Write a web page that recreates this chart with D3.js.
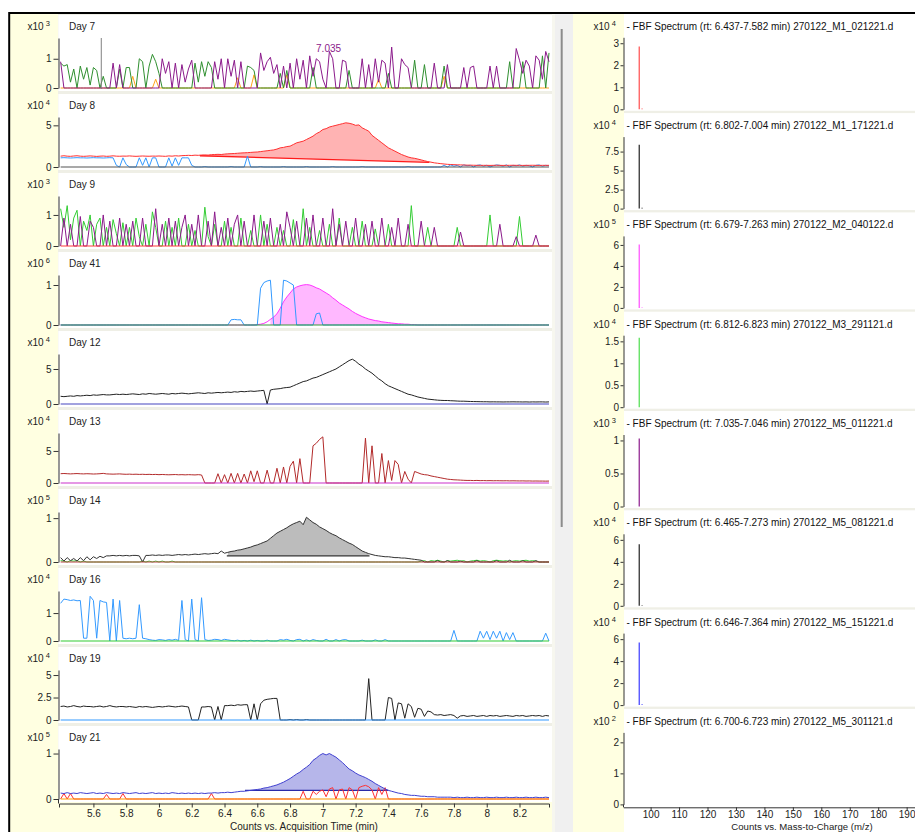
<!DOCTYPE html>
<html><head><meta charset="utf-8">
<script src="https://cdn.jsdelivr.net/npm/d3@7"></script>
<style>
body{margin:0;background:#fff;}
svg{display:block;font-family:"Liberation Sans",Arial,sans-serif;}
</style></head>
<body><svg id="c" width="915" height="832"></svg>
<script>
// ---------------- DATA ----------------
// acquisition grid: scans from 5.40 min every 0.02 min (150 scans)
const acqStart = 5.40, acqStep = 0.02;
const timeTicks = [5.6,5.8,6.0,6.2,6.4,6.6,6.8,7.0,7.2,7.4,7.6,7.8,8.0,8.2];

const dayLabels    = ["Day 7","Day 8","Day 9","Day 41","Day 12","Day 13","Day 14","Day 16","Day 19","Day 21"];
const dayExponents = [3,4,3,6,4,4,5,4,4,5];
const dayYMax      = [1.71,6.0,1.61,1.25,7.14,7.8,1.14,1.79,5.56,1.1];
const dayTicks     = [[0,1],[0,5],[0,1],[0,1],[0,5],[0,5],[0,1],[0,1],[0,2.5,5],[0,1]];
const dayZeroColors= [null,"#555555","#ff3b3b","#3a9a3a","#4646c0","#cc33cc","#b84040","#33cc33","#3399ff","#ff9900"];

const day7Purple = [0.9,0,0,0,0,0,0,0,0,0,
 0,0,0,0,0,0,0.85,0,0.8,0,
 0,0,0,0,0,0,0,0,0,0,
 0,1.0,0.5,0.9,0,0.85,0,0.8,0.2,0.65,
 0.95,0,0,0,0,0,0,0.9,0.3,1.0,
 0,1.0,0.4,0.95,0,0.9,0,0,0,0,
 0,1.2,0.6,0.9,1.05,0.5,0.8,0,0.75,0,
 0.85,0,1.0,0.3,0.95,0,1.1,0.4,1.0,0.9,
 0.3,0,1.25,1.0,0,0,0.95,0.9,0,0,
 0,0,1.0,0,0.8,0,1.0,0.2,0.95,0.85,
 0,1.4,0,0,1.0,0.8,0.7,0,0,0,
 0,0,0,0,0.85,0,0,0,0.8,0,
 0,0,0,0.7,0,0.7,0.75,0,0,0,
 0,0.75,0,0.75,0,0,0,0,0,1.35,
 0.95,0.5,0.95,0.75,0,1.1,0.95,0.3,1.25,0.9];
const day7Green = [0.85,0.75,0.8,0.2,0.65,0,0.75,0.3,0.7,0.1,
 0.7,0.6,0,0.4,0,0,0,0,0.65,0,
 0.7,0.7,0,0,1.0,0.9,0,0.75,1.15,0.9,
 0.5,0,0,0,0,0,0,0,0,0,
 0,0.85,0.2,0.9,0.4,0.9,0.7,0,0,0,
 0,0,0,0,0,0,0,0.75,0.7,0.6,
 0,0,0,0,0,0,0,0.5,0,0.6,
 0,0,0,0,0,0,0,0.7,0,0,
 0,0,0,0,0,0,0,0,0.6,0,
 0,0,0,0,0,0,0,0,0,0,
 0.5,0,0,0,0,0,0,0,0.95,0,
 0,0.8,0,0,0,0,0,0.75,0,0,
 0,0,0,0,0,0,0,0,0,0,
 0,0,0,0,0,0,0,0.9,0,0,
 0,0.9,0,0,0,0,0,1.1,0,1.2];
const day7Orange = [0,0,0,0,0,0,0,0,0,0,
 0,0,0,0,0,0,0,0,0,0,
 0,0,0.4,0,0,0,0,0,0,0.3,
 0,0,0,0,0,0,0,0,0,0,
 0,0,0,0,0,0,0,0,0,0,
 0,0,0,0,0.35,0,0,0,0,0.45,
 0,0,0,0,0,0,0,0,0,0.45,
 0,0,0,0,0,0,0,0,0,0,
 0,0,0,0,0,0,0,0,0,0,
 0,0,0,0,0,0,0,0.3,0,0,
 0,0,0,0,0,0,0,0,0,0,
 0,0,0,0,0,0,0,0.4,0,0,
 0,0,0,0,0,0,0,0,0,0,
 0,0,0,0,0,0,0,0,0,0,
 0,0,0,0,0,0,0,0,0,0];
const day7MarkerTimes = [5.648];
const day7PeakLabel = {rt: 7.035, text: "7.035"};

const day8Red = [1.3,1.35,1.3,1.28,1.32,1.35,1.3,1.28,1.3,1.33,
 1.3,1.27,1.3,1.32,1.28,1.3,1.34,1.3,1.29,1.31,
 1.3,1.33,1.3,1.28,1.3,1.32,1.3,1.29,1.31,1.3,
 1.32,1.3,1.28,1.33,1.3,1.35,1.32,1.36,1.38,1.4,
 1.38,1.42,1.4,1.44,1.45,1.43,1.48,1.5,1.52,1.5,
 1.55,1.58,1.6,1.62,1.65,1.68,1.7,1.72,1.75,1.78,
 1.8,1.85,1.9,1.95,2.0,2.05,2.15,2.3,2.35,2.45,
 2.5,2.7,2.9,3.0,3.1,3.3,3.5,3.7,4.0,4.2,
 4.5,4.6,4.8,4.9,5.0,5.1,5.2,5.3,5.25,5.15,
 5.0,5.05,4.7,4.5,4.3,3.8,3.5,3.2,2.9,2.6,
 2.3,2.1,1.9,1.7,1.5,1.35,1.2,1.1,1.04,0.95,
 0.85,0.75,0.65,0.58,0.5,0.45,0.4,0.36,0.32,0.3,
 0.28,0.26,0.25,0.24,0.22,0.22,0.21,0.2,0.2,0.2,
 0.2,0.19,0.2,0.21,0.2,0.19,0.2,0.2,0.21,0.2,
 0.2,0.19,0.2,0.2,0.21,0.2,0.19,0.2,0.2,0.2];
const day8Blue = [1.1,1.12,1.1,1.08,1.1,1.12,1.1,1.1,1.08,1.1,
 1.12,1.1,1.1,1.08,1.1,1.12,1.1,0.2,0,1.1,
 0.3,0,0,0,1.1,0.2,1.1,0,1.1,1.1,
 0,0,0,1.1,0.1,1.1,0.2,1.1,1.1,1.1,
 0.2,0,0,0,0.05,0,0,0,0,0,
 0,0,0.05,0,0,0,0,1.3,0,0,
 0,0.05,0,0,0,0,0,0,0.05,0,
 0,0,0,0,0,0.05,0,0,0,0,
 0,0,0,0.05,0,0,0,0,0,0,
 0,0,0.05,0,0,0,0,0,0,0,
 0,0,0,0,0,0,0.05,0,0,0,
 0,0,0,0,0,0,0,0.2,0,0.25,
 0.1,0.2,0,0.25,0.15,0.2,0,0.2,0.25,0.1,
 0.2,0,0.15,0.25,0.2,0.1,0.25,0,0.2,0.15,
 0.25,0.1,0.2,0.15,0,0.2,0.25,0.1,0.2,0.15];

const day9Green = [1.2,0.6,1.3,0.2,0.9,1.15,0,0.8,0.5,1.0,
 0,0.7,0.9,0,0.6,0,0.85,0.4,0,0.75,
 0,0.6,0,0.9,0.3,0,0.7,0,1.1,0.6,
 0,0,0.8,0,0.6,0,0.9,0,0,0.7,
 0,0.5,0,0,1.25,0.3,0,0.7,0,0,
 0.8,0,0.6,0,0,0.9,0,0,0.5,0,
 0,1.0,0,0.7,0,0,0.6,0,0.5,0,
 0,0.85,0,0,1.2,0,0.6,0,0,0.5,
 0,0,0.7,0,0,0.9,0,0,0,0.6,
 0,0,0.8,0,0,0,0.55,0,0,0,
 0.7,0,0,0,0,0,0,1.3,0,0,
 0,0,0.6,0,0,0,0,0,0,0,
 0,0.6,0,0,0,0,0,0,0,0,
 0,1.0,0,0,0,0,0,0,0,0,
 0.95,0,0,0,0,0,0,0,0,0];
const day9Purple = [0,0.9,0,0.7,0,0,0.95,0,0,0.8,
 0.6,0,0,1.0,0,0.8,0,0,0.9,0,
 0.7,0,0.8,0,0,0.9,0,0,0,1.2,
 0,0.7,0,0.9,0,0.8,0,0.6,1.0,0,
 0.7,0,1.0,0,0,0.8,0,1.1,0,0.6,
 0,0.9,0,0.7,1.0,0,0.8,0,0,1.0,
 0,0,0.8,0,0.9,0,0,0.7,0,1.1,
 0.6,0,0.8,0,0,0.9,0,1.0,0,0,
 0.9,0,0,1.2,0,0.7,0,0.8,0,0,
 0.9,0,0,0.7,0,0.8,0,0,0.9,0,
 0,0.6,0,0.9,0,0,0.7,0,0,0,
 0.8,0,0,0,0.6,0,0,0,0,0,
 0,0,0.45,0,0,0,0,0,0,0,
 0,0,0,0,0.7,0,0,0,0,0.3,
 0,0,0,0,0,0.35,0,0,0,0];

const day41Magenta = [0,0,0,0,0,0,0,0,0,0,
 0,0,0,0,0,0,0,0,0,0,
 0,0,0,0,0,0,0,0,0,0,
 0,0,0,0,0,0,0,0,0,0,
 0,0,0,0,0,0,0,0,0,0,
 0,0,0,0,0,0,0,0,0,0,
 0.01,0.02,0.04,0.08,0.14,0.2,0.28,0.42,0.58,0.7,
 0.8,0.9,0.95,0.98,1.0,1.01,1.0,0.97,0.93,0.9,
 0.85,0.8,0.75,0.68,0.62,0.55,0.5,0.45,0.4,0.34,
 0.29,0.25,0.21,0.18,0.15,0.13,0.11,0.1,0.08,0.07,
 0.06,0.05,0.04,0.03,0.03,0.02,0.02,0.01,0.01,0,
 0,0,0,0,0,0,0,0,0,0,
 0,0,0,0,0,0,0,0,0,0,
 0,0,0,0,0,0,0,0,0,0,
 0,0,0,0,0,0,0,0,0,0];
const day41Blue = [0,0,0,0,0,0,0,0,0,0,
 0,0,0,0,0,0,0,0,0,0,
 0,0,0,0,0,0,0,0,0,0,
 0,0,0,0,0,0,0,0,0,0,
 0,0,0,0,0,0,0,0,0,0,
 0,0,0.13,0.14,0.13,0.13,0,0,0,0,
 0,0.92,1.06,1.1,1.12,0,0,0,1.12,1.1,
 1.05,1.0,0,0,0,0,0,0,0.28,0.3,
 0,0,0,0,0,0,0,0,0,0,
 0,0,0,0,0,0,0,0,0,0,
 0,0,0,0,0,0,0,0,0,0,
 0,0,0,0,0,0,0,0,0,0,
 0,0,0,0,0,0,0,0,0,0,
 0,0,0,0,0,0,0,0,0,0,
 0,0,0,0,0,0,0,0,0,0];

const day12Black = [1.1,1.05,1.1,1.15,1.1,1.2,1.15,1.2,1.25,1.2,
 1.3,1.25,1.3,1.35,1.3,1.3,1.35,1.4,1.35,1.4,
 1.35,1.4,1.45,1.4,1.35,1.45,1.4,1.5,1.45,1.4,
 1.45,1.5,1.45,1.4,1.5,1.45,1.5,1.55,1.5,1.45,
 1.5,1.55,1.6,1.55,1.5,1.6,1.55,1.6,1.65,1.6,
 1.65,1.7,1.65,1.75,1.7,1.8,1.75,1.8,1.85,1.8,
 1.85,1.9,1.95,0,2.0,2.1,2.15,2.2,2.3,2.35,
 2.4,2.6,2.8,3.0,3.2,3.3,3.5,3.7,3.8,4.0,
 4.2,4.4,4.6,4.8,5.0,5.3,5.6,5.9,6.2,6.4,
 6.1,5.7,5.4,5.0,4.7,4.4,4.0,3.6,3.3,2.9,
 2.6,2.4,2.2,2.0,1.8,1.6,1.4,1.3,1.15,1.0,
 0.9,0.8,0.7,0.65,0.6,0.55,0.52,0.5,0.5,0.47,
 0.45,0.42,0.4,0.4,0.38,0.36,0.35,0.34,0.33,0.32,
 0.32,0.3,0.31,0.3,0.3,0.29,0.3,0.3,0.31,0.3,
 0.3,0.29,0.3,0.28,0.3,0.29,0.3,0.3,0.28,0.3];

const day13Red = [1.45,1.48,1.45,1.42,1.45,1.47,1.44,1.42,1.45,1.43,
 1.4,1.42,1.45,1.5,1.42,1.4,1.38,1.4,1.42,1.38,
 1.36,1.38,1.35,1.37,1.34,1.36,1.33,1.35,1.32,1.34,
 1.3,1.33,1.3,1.28,1.3,1.32,1.28,1.3,1.27,1.3,
 1.28,1.26,1.3,1.25,0,0,0,0,1.45,0,
 1.3,0,1.5,0,1.5,0,1.4,0,1.9,0.2,
 1.9,0,0,2.0,0,0,2.3,0,2.5,0,
 2.6,3.4,0,3.8,0,0,0,5.8,6.2,6.8,
 7.2,0,0,0,0,0,0,0,0,0,
 0,0,0,7.0,0,5.8,0,0,4.6,0,
 3.5,0.4,3.5,2.9,0,1.8,0.6,0,1.8,1.6,
 1.4,1.3,1.25,1.1,1.0,0.9,0.8,0.7,0.6,0.55,
 0.5,0.48,0.45,0.42,0.4,0.4,0.38,0.4,0.37,0.38,
 0.36,0.37,0.35,0.36,0.35,0.34,0.35,0.33,0.34,0.33,
 0.32,0.33,0.31,0.32,0.3,0.31,0.3,0.3,0.29,0.3];

const day14Black = [0.1,0.02,0.1,0.03,0.08,0.02,0.1,0.03,0.12,0.05,
 0.12,0.08,0.13,0.1,0.14,0.14,0.15,0.14,0.15,0.14,
 0.15,0.14,0.15,0.15,0.14,0.0,0.15,0.15,0.16,0.15,
 0.16,0.15,0.16,0.16,0.15,0.16,0.17,0.16,0.17,0.16,
 0.17,0.18,0.17,0.18,0.19,0.18,0.19,0.2,0.19,0.25,
 0.2,0.22,0.24,0.25,0.27,0.28,0.3,0.32,0.34,0.37,
 0.39,0.42,0.45,0.48,0.54,0.6,0.66,0.7,0.74,0.78,
 0.83,0.87,0.9,0.93,0.85,1.02,0.96,0.9,0.86,0.8,
 0.76,0.72,0.67,0.63,0.6,0.55,0.51,0.47,0.43,0.4,
 0.35,0.3,0.25,0.22,0.19,0.17,0.15,0.14,0.13,0.12,
 0.12,0.11,0.1,0.1,0.09,0.09,0.08,0.07,0.06,0.05,
 0.04,0,0,0,0,0.03,0,0,0.03,0,
 0,0,0.02,0,0,0,0,0.03,0,0,
 0,0,0,0.03,0,0,0,0.04,0,0,
 0,0.03,0,0,0,0.03,0,0,0,0];
const day14Green = [0.03,0.02,0,0.03,0.02,0.03,0,0.02,0,0,
 0,0,0,0,0,0,0,0,0,0,
 0,0,0,0,0,0.02,0,0.02,0,0.02,
 0,0.02,0,0,0.02,0,0,0,0,0,
 0,0,0,0,0,0,0,0,0,0,
 0,0,0,0,0,0,0,0,0,0,
 0,0,0,0,0,0,0,0,0,0,
 0,0,0,0,0,0,0,0,0,0,
 0,0,0,0,0,0,0,0,0,0,
 0,0,0,0,0,0,0,0,0,0,
 0,0,0,0,0,0,0,0,0,0,
 0.02,0.03,0,0.03,0.02,0.04,0.02,0,0.03,0.02,
 0.03,0.04,0.02,0.03,0,0.02,0.03,0.04,0.02,0.03,
 0.02,0,0.03,0.04,0.03,0.02,0.03,0,0.02,0.03,
 0.02,0.03,0.04,0.02,0.03,0.02,0,0,0,0];

const day16Blue = [1.35,1.5,1.48,1.45,1.47,1.44,1.45,0.1,0.1,1.6,
 1.45,0.1,1.45,1.4,1.38,0,1.5,0,1.45,0.1,
 0.08,0.1,0.08,0.1,1.3,0.1,0.08,0.05,0.03,0.02,
 0.05,0.04,0.02,0.05,0.03,0.06,0.02,1.45,0.05,0,
 1.5,0.05,0,1.55,0.05,0.02,0.03,0.06,0.05,0.02,
 0.06,0.04,0.02,0.01,0.03,0,0.02,0,0.03,0,
 0.02,0,0,0.03,0,0,0,0.05,0.03,0.06,
 0.02,0,0.05,0.06,0,0.04,0,0.05,0.02,0,
 0,0.06,0,0,0.05,0,0.04,0.05,0,0,
 0,0,0.03,0,0,0,0.04,0,0,0.05,
 0,0,0,0,0,0,0,0,0,0,
 0,0,0,0,0,0,0,0,0,0,
 0.38,0,0,0,0,0,0,0,0.35,0.1,
 0.35,0.05,0.35,0.1,0.35,0,0.3,0.05,0.3,0,
 0,0,0,0,0,0,0,0,0.28,0];

const day19Black = [1.5,1.55,1.45,1.5,1.6,1.5,1.45,1.55,1.5,1.5,
 1.45,1.5,1.55,1.45,1.5,1.6,1.5,1.45,1.5,1.5,
 1.45,1.5,1.45,1.4,1.5,1.45,1.5,1.45,1.4,1.45,
 1.5,1.45,1.5,1.55,1.5,1.45,1.5,1.55,1.5,1.45,
 0,0,0,1.45,1.45,1.5,1.45,0,1.5,0,
 1.6,1.6,1.65,1.6,1.7,1.65,1.7,1.7,0,1.8,
 0,1.8,2.2,2.3,2.35,2.4,2.4,0,0,0,
 0.05,0,0.05,0,0,0.05,0,0,0,0,
 0,0,0,0,0,0,0,0,0,0,
 0,0,0,0,4.6,0,0,0,0,0,
 2.5,2.4,0,1.9,1.8,0.2,1.8,1.5,0.3,1.3,
 1.2,0.4,1.0,0.9,0.6,0.55,0.6,0.5,0.55,0.6,
 0.5,0.2,0.45,0.5,0.4,0.45,0.5,0.4,0.45,0.5,
 0.4,0.5,0.45,0.5,0.4,0.45,0.5,0.45,0.4,0.5,
 0.45,0.5,0.4,0.45,0.5,0.45,0.5,0.4,0.5,0.45];

const day21Blue = [0.13,0.12,0.14,0.12,0.13,0.12,0.14,0.13,0.12,0.13,
 0.14,0.12,0.13,0.12,0.14,0.13,0.12,0.13,0.12,0.14,
 0.13,0.12,0.13,0.14,0.12,0.13,0.12,0.13,0.14,0.12,
 0.13,0.12,0.13,0.12,0.14,0.13,0.12,0.13,0.12,0.13,
 0.12,0.13,0.12,0.13,0.12,0.13,0.13,0.14,0.13,0.14,
 0.14,0.15,0.14,0.15,0.16,0.17,0.17,0.18,0.19,0.2,
 0.21,0.22,0.24,0.25,0.27,0.29,0.31,0.34,0.37,0.41,
 0.45,0.5,0.55,0.59,0.65,0.7,0.76,0.85,0.9,0.96,
 1.0,0.97,1.0,0.96,0.92,0.86,0.8,0.73,0.66,0.62,
 0.57,0.53,0.5,0.47,0.43,0.39,0.34,0.3,0.26,0.22,
 0.19,0.17,0.15,0.13,0.12,0.1,0.09,0.08,0.08,0.07,
 0.06,0.06,0.05,0.05,0.05,0.04,0.04,0.04,0.04,0.04,
 0.03,0.04,0.03,0.03,0.04,0.03,0.03,0.04,0.03,0.03,
 0.04,0.03,0.03,0.04,0.03,0.03,0.04,0.03,0.03,0.04,
 0.03,0.03,0.04,0.03,0.03,0.04,0.03,0.03,0.04,0.03];
const day21Red = [0,0.12,0,0.12,0,0,0,0,0,0,
 0,0,0,0,0.1,0,0,0,0,0.12,
 0,0,0,0,0,0,0,0,0,0,
 0,0,0,0,0,0,0,0,0,0,
 0,0,0,0,0,0,0.12,0,0,0,
 0,0,0,0,0,0,0,0,0,0,
 0,0,0,0,0,0,0,0,0,0,
 0,0,0,0,0.17,0,0,0.17,0.1,0.17,
 0.2,0.05,0.22,0.25,0,0.2,0.22,0,0.25,0.2,
 0,0.25,0.28,0.3,0.27,0.2,0,0.25,0.1,0.25,
 0,0,0,0,0,0,0,0,0,0,
 0,0,0,0,0,0,0,0,0,0,
 0,0,0,0,0,0,0,0,0,0,
 0,0,0,0,0,0,0,0,0,0,
 0,0,0,0,0,0,0,0,0,0];

// integrated peaks: [startRt, endRt, baseline value at start, at end]
const day8Integration  = [6.25, 7.65, 1.35, 0.55];
const day41Integration = [6.68, 7.48, 0, 0];
const day14Integration = [6.414, 7.285, 0.14, 0.14];
const day21Integration = [6.525, 7.40, 0.19, 0.19];

// Spectra (right column)
const specTitles = [
 "- FBF Spectrum (rt: 6.437-7.582 min) 270122_M1_021221.d",
 "- FBF Spectrum (rt: 6.802-7.004 min) 270122_M1_171221.d",
 "- FBF Spectrum (rt: 6.679-7.263 min) 270122_M2_040122.d",
 "- FBF Spectrum (rt: 6.812-6.823 min) 270122_M3_291121.d",
 "- FBF Spectrum (rt: 7.035-7.046 min) 270122_M5_011221.d",
 "- FBF Spectrum (rt: 6.465-7.273 min) 270122_M5_081221.d",
 "- FBF Spectrum (rt: 6.646-7.364 min) 270122_M5_151221.d",
 "- FBF Spectrum (rt: 6.700-6.723 min) 270122_M5_301121.d"];
const specExponents = [4,4,5,4,3,4,4,2];
const specYMax  = [3.27,9.47,6.86,1.64,1.09,6.55,6.55,2.32];
const specTicks = [[0,1,2,3],[0,2.5,5,7.5],[0,2,4,6],[0,0.5,1,1.5],[0,0.5,1],[0,2,4,6],[0,2,4,6],[0,1,2]];
const specMz = [96, 97];
const specHeights = [[2.85,0.04],[8.4,0.1],[6.05,0.05],[1.58,0],[1.03,0],[5.6,0.05],[5.7,0.08],[0,0]];
const mzTicks = [100,110,120,130,140,150,160,170,180,190];

// ---------------- DRAWING ----------------
const W = 915, H = 832;
const svg = d3.select("#c");
const fmt = d3.format("~g");

svg.append("rect").attr("width",W).attr("height",H).attr("fill","#fff");
svg.append("rect").attr("x",10).attr("y",14).attr("width",W-10).attr("height",H-14).attr("fill","#ffffe1");
svg.append("rect").attr("x",58).attr("y",14).attr("width",494).attr("height",788).attr("fill","#efefe6");
svg.append("rect").attr("x",552).attr("y",14).attr("width",21).attr("height",H-14).attr("fill","#f0f0f0");
svg.append("rect").attr("x",552).attr("y",14).attr("width",3).attr("height",H-14).attr("fill","#f7f7ef");
svg.append("line").attr("x1",561.7).attr("x2",561.7).attr("y1",29).attr("y2",527).attr("stroke","#8c8c8c").attr("stroke-width",2);
svg.append("rect").attr("x",624).attr("y",14).attr("width",W-624).attr("height",H-14).attr("fill","#efefe6");

// ---- left: chromatograms ----
const xT = d3.scaleLinear().domain([5.39, 8.38]).range([59, 549]);
const tOf = i => acqStart + acqStep * i;
const zeroY = k => 88 + 79 * k;
const yScales = dayLabels.map((d,k) => d3.scaleLinear().domain([0, dayYMax[k]]).range([zeroY(k), zeroY(k) - 50]));

dayLabels.forEach((lab,k) => {
  svg.append("rect").attr("x",58.3).attr("y",zeroY(k)-73).attr("width",493.7).attr("height",76).attr("fill","#fff");
});

const left = svg.append("g");
const defs = svg.append("defs");
dayLabels.forEach((lab,k) => {
  defs.append("clipPath").attr("id","clipL"+k).append("rect")
    .attr("x",58.5).attr("y",zeroY(k)-56).attr("width",492).attr("height",59);
});

function lineFor(k){
  const y = yScales[k];
  return d3.line().x((d,i)=>xT(tOf(i))).y(d=>y(d));
}
const traces = [
  {k:0, v:day7Orange, c:"#ffa31a"},
  {k:0, v:day7Green,  c:"#2f8f2f"},
  {k:0, v:day7Purple, c:"#8b1a8b"},
  {k:1, v:day8Blue,   c:"#3399ff"},
  {k:1, v:day8Red,    c:"#ff3030"},
  {k:2, v:day9Green,  c:"#33cc33"},
  {k:2, v:day9Purple, c:"#8b1a8b"},
  {k:3, v:day41Magenta,c:"#ff33ff"},
  {k:3, v:day41Blue,  c:"#3399ff"},
  {k:4, v:day12Black, c:"#222222"},
  {k:5, v:day13Red,   c:"#b22a2a"},
  {k:6, v:day14Green, c:"#33cc33"},
  {k:6, v:day14Black, c:"#333333"},
  {k:7, v:day16Blue,  c:"#3399ff"},
  {k:8, v:day19Black, c:"#222222"},
  {k:9, v:day21Red,   c:"#ff3030"},
  {k:9, v:day21Blue,  c:"#4040d0"}
];
const fills = [
  {k:1, v:day8Red, seg:day8Integration, fill:"#ffb3b3", edge:"#ff1a1a"},
  {k:3, v:day41Magenta, seg:day41Integration, fill:"#ffb8ff", edge:null},
  {k:6, v:day14Black, seg:day14Integration, fill:"#bcbcbc", edge:"#333333"},
  {k:9, v:day21Blue, seg:day21Integration, fill:"#b6b6ea", edge:"#2a2aa8"}
];

fills.forEach(f => {
  const y = yScales[f.k];
  const base = d3.scaleLinear().domain([f.seg[0], f.seg[1]]).range([f.seg[2], f.seg[3]]);
  const pts = f.v.map((v,i)=>({t:tOf(i), v})).filter(p => p.t >= f.seg[0]-1e-9 && p.t <= f.seg[1]+1e-9);
  const area = d3.area().x(p=>xT(p.t)).y0(p=>y(base(p.t))).y1(p=>y(p.v));
  left.append("path").attr("d",area(pts)).attr("fill",f.fill).attr("clip-path","url(#clipL"+f.k+")");
  if (f.edge) {
    left.append("line").attr("x1",xT(f.seg[0])).attr("x2",xT(f.seg[1]))
      .attr("y1",y(f.seg[2])).attr("y2",y(f.seg[3])).attr("stroke",f.edge).attr("stroke-width",1.3);
  }
});

traces.forEach(tr => {
  left.append("path").attr("d", lineFor(tr.k)(tr.v)).attr("fill","none")
    .attr("stroke",tr.c).attr("stroke-width",1).attr("stroke-linejoin","round")
    .attr("clip-path","url(#clipL"+tr.k+")");
});

dayZeroColors.forEach((c,k) => {
  if (!c) return;
  const y = yScales[k];
  left.append("line").attr("x1",xT(acqStart)).attr("x2",xT(tOf(149)))
    .attr("y1",y(0)).attr("y2",y(0)).attr("stroke",c).attr("stroke-width",1.2);
});

day7MarkerTimes.forEach(t => {
  left.append("line").attr("x1",xT(t)).attr("x2",xT(t)).attr("y1",yScales[0](0)+1).attr("y2",yScales[0](dayYMax[0]))
    .attr("stroke","#808080").attr("stroke-width",1);
});
left.append("text").attr("x",xT(day7PeakLabel.rt)).attr("y",52).attr("text-anchor","middle")
  .attr("font-size",10).attr("fill","#8b1a8b").text(day7PeakLabel.text);

dayLabels.forEach((lab,k) => {
  const y = yScales[k];
  const g = svg.append("g").attr("transform","translate(58.5,0)")
    .call(d3.axisLeft(y).tickValues(dayTicks[k]).tickFormat(fmt).tickSize(5).tickPadding(2).tickSizeOuter(0));
  g.select(".domain").attr("stroke","#333");
  g.selectAll(".tick line").attr("stroke","#333");
  g.selectAll(".tick text").attr("font-size",10).attr("fill","#222").attr("font-family","Liberation Sans, Arial, sans-serif");
  svg.append("text").attr("x",69).attr("y",zeroY(k)-57.8).attr("font-size",10).attr("fill","#222").text(lab);
  const ex = svg.append("text").attr("x",27.5).attr("y",zeroY(k)-57.8).attr("font-size",10).attr("fill","#222").text("x10");
  ex.append("tspan").attr("dx",2).attr("dy",-4).attr("font-size",7.5).text(dayExponents[k]);
});
svg.append("line").attr("x1",58.5).attr("x2",58.5).attr("y1",zeroY(9)).attr("y2",803.5).attr("stroke","#333");

const gx = svg.append("g").attr("transform","translate(0,803.5)")
  .call(d3.axisBottom(xT).tickValues(timeTicks).tickFormat(fmt).tickSize(4).tickPadding(2.5).tickSizeOuter(4));
gx.select(".domain").attr("stroke","#333");
gx.selectAll(".tick line").attr("stroke","#333");
gx.selectAll(".tick text").attr("font-size",10).attr("fill","#222").attr("font-family","Liberation Sans, Arial, sans-serif");
svg.append("text").attr("x",304).attr("y",829.5).attr("text-anchor","middle").attr("font-size",10).attr("fill","#222")
  .text("Counts vs. Acquisition Time (min)");

// ---- right: spectra ----
const xM = d3.scaleLinear().domain([90.4, 200]).range([623.3, 935.1]);
const specZero = j => 109.3 + 99.3 * j;
specTitles.forEach((title,j) => {
  const y0 = specZero(j);
  const h = j === specTitles.length-1 ? (H - (y0-95.5)) : 97;
  svg.append("rect").attr("x",624).attr("y",y0-95.5).attr("width",W-624).attr("height",h).attr("fill","#fff");
});
const specColors = ["#ff4d4d","#222222","#ff4dff","#4ddd4d","#8b1a8b","#222222","#3b3bff",null];
specTitles.forEach((title,j) => {
  const y0 = specZero(j);
  const y = d3.scaleLinear().domain([0, specYMax[j]]).range([y0, y0-72]);
  const g = svg.append("g").attr("transform","translate(623.5,0)")
    .call(d3.axisLeft(y).tickValues(specTicks[j]).tickFormat(fmt).tickSize(3).tickPadding(1.5).tickSizeOuter(0));
  g.select(".domain").attr("stroke","#333");
  g.selectAll(".tick line").attr("stroke","#333");
  g.selectAll(".tick text").attr("font-size",10).attr("fill","#222").attr("font-family","Liberation Sans, Arial, sans-serif");
  svg.append("text").attr("x",626.5).attr("y",y0-79.5).attr("font-size",10).attr("fill","#111").text(title);
  const ex = svg.append("text").attr("x",593.5).attr("y",y0-79.5).attr("font-size",10).attr("fill","#222").text("x10");
  ex.append("tspan").attr("dx",2).attr("dy",-4).attr("font-size",7.5).text(specExponents[j]);
  if (specColors[j]) {
    specMz.forEach((mz,m) => {
      const v = specHeights[j][m];
      if (v > 0) svg.append("line").attr("x1",xM(mz)).attr("x2",xM(mz)).attr("y1",y(0)).attr("y2",y(v))
        .attr("stroke",specColors[j]).attr("stroke-width",1.2);
    });
  }
});
svg.append("line").attr("x1",623.5).attr("x2",623.5).attr("y1",specZero(7)).attr("y2",807.3).attr("stroke","#333");
const gm = svg.append("g").attr("transform","translate(0,807.3)")
  .call(d3.axisBottom(xM).tickValues(mzTicks).tickFormat(fmt).tickSize(3).tickPadding(0.8).tickSizeOuter(0));
gm.select(".domain").attr("stroke","#333");
gm.selectAll(".tick line").attr("stroke","#333");
gm.selectAll(".tick text").attr("font-size",10).attr("fill","#222").attr("font-family","Liberation Sans, Arial, sans-serif");
svg.append("text").attr("x",802).attr("y",829.8).attr("text-anchor","middle").attr("font-size",9.6).attr("fill","#222")
  .text("Counts vs. Mass-to-Charge (m/z)");

svg.append("line").attr("x1",9).attr("x2",W).attr("y1",13).attr("y2",13).attr("stroke","#000").attr("stroke-width",2);
svg.append("line").attr("x1",9.2).attr("x2",9.2).attr("y1",12).attr("y2",H).attr("stroke","#000").attr("stroke-width",2);
</script>
</body></html>
